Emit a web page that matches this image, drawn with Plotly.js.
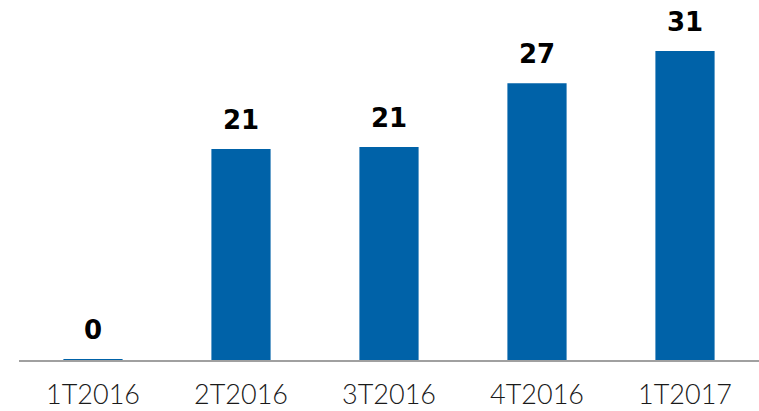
<!DOCTYPE html>
<html>
<head>
<meta charset="utf-8">
<script src="https://cdn.plot.ly/plotly-3.0.1.min.js"></script>
<style>html,body{margin:0;padding:0;background:#fff;}#chart{width:759px;height:411px;}</style>
</head>
<body>
<div id="chart"></div>
<script>
const categories = ["1T2016", "2T2016", "3T2016", "4T2016", "1T2017"];
const values = [0.1, 20.9, 21.1, 27.4, 30.6];
const labels = ["0", "21", "21", "27", "31"];

const trace = {
  type: "bar",
  x: categories,
  y: values,
  marker: {color: "#0062a8"},
  hoverinfo: "skip"
};

const annotations = categories.map((c, i) => ({
  x: c, y: values[i], xref: "x", yref: "y",
  text: labels[i], showarrow: false,
  yanchor: "bottom", yshift: 12,
  font: {family: "DejaVu Sans", size: 26, color: "#000", weight: "bold"}
}));

const layout = {
  width: 759, height: 411,
  margin: {l: 19, r: 0, t: 17, b: 51},
  paper_bgcolor: "#fff", plot_bgcolor: "#fff",
  bargap: 0.6,
  showlegend: false,
  xaxis: {
    showline: true, linecolor: "#a0a0a0", linewidth: 1.5,
    ticks: "", showgrid: false, zeroline: false,
    tickfont: {family: "Lato", size: 27, color: "#1a1a1a", weight: 300},
    ticklabelstandoff: 10
  },
  yaxis: {
    range: [0, 33.96], visible: false, showgrid: false, zeroline: false
  },
  annotations: annotations
};

Plotly.newPlot("chart", [trace], layout, {staticPlot: true, displayModeBar: false});
</script>
</body>
</html>
